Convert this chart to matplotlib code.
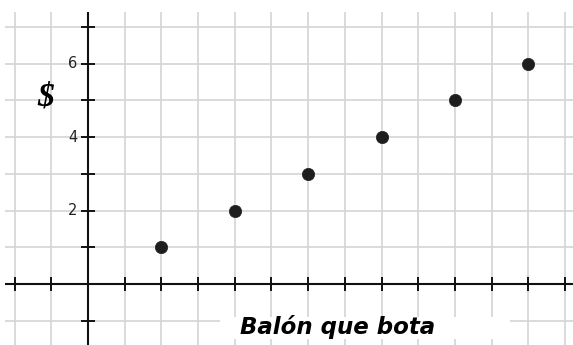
import matplotlib
matplotlib.use("Agg")
import matplotlib.pyplot as plt
from matplotlib.patches import Rectangle
import numpy as np

# Bouncing balls bought vs. dollars paid
balls = [1, 2, 3, 4, 5, 6]
dollars = [1, 2, 3, 4, 5, 6]
y_tick_labels = [2, 4, 6]
x_label = "Balón que bota"
y_label = "$"

W, H = 573, 345
fig = plt.figure(figsize=(W / 100, H / 100), dpi=100)
ax = fig.add_axes([5 / W, 0, 568 / W, 333 / H])

xmin, xmax = -1.131, 6.608
ymin, ymax = -1.662, 7.41
ax.set_xlim(xmin, xmax)
ax.set_ylim(ymin, ymax)

# light square grid: half-ball steps horizontally, one dollar vertically
for gx in np.arange(-1.0, 6.75, 0.5):
    ax.axvline(gx, color="#d4d4d4", lw=1.2, zorder=0)
for gy in np.arange(-1, 8, 1):
    ax.axhline(gy, color="#d4d4d4", lw=1.2, zorder=0)

# white label box over the grid
ax.add_patch(Rectangle((1.8, -1.5), 3.95, 0.6, facecolor="white",
                       edgecolor="none", zorder=1))

# main axes through the origin
ax.axhline(0, color="#111111", lw=1.5, zorder=2)
ax.axvline(0, color="#111111", lw=1.5, zorder=2)

# cross ticks on both axes
tx = 7 / 36.7
for gx in np.arange(-1.0, 6.75, 0.5):
    if gx != 0:
        ax.plot([gx, gx], [-tx, tx], color="#111111", lw=1.4, zorder=2,
                solid_capstyle="butt")
ty = 7 / 73.4
for gy in np.arange(-1, 8, 1):
    if gy != 0:
        ax.plot([-ty, ty], [gy, gy], color="#111111", lw=1.4, zorder=2,
                solid_capstyle="butt")

for v in y_tick_labels:
    ax.text(-0.14, v, str(v), ha="right", va="center", fontsize=10.5,
            color="#222222", zorder=3)

ax.scatter(balls, dollars, s=78, color="#1e1e1e", zorder=4,
           edgecolors="#1e1e1e", linewidths=0.5)

ax.text(2.07, -1.18, x_label, ha="left", va="center", fontsize=16.5,
        fontweight="bold", fontstyle="italic", family="DejaVu Sans",
        color="black", zorder=3)
ax.text(-0.57, 5.1, y_label, ha="center", va="center", fontsize=24,
        fontweight="bold", fontstyle="italic", family="Liberation Serif",
        color="black", zorder=3)

for s in ax.spines.values():
    s.set_visible(False)
ax.set_xticks([])
ax.set_yticks([])

fig.savefig("out.png", dpi=100)
